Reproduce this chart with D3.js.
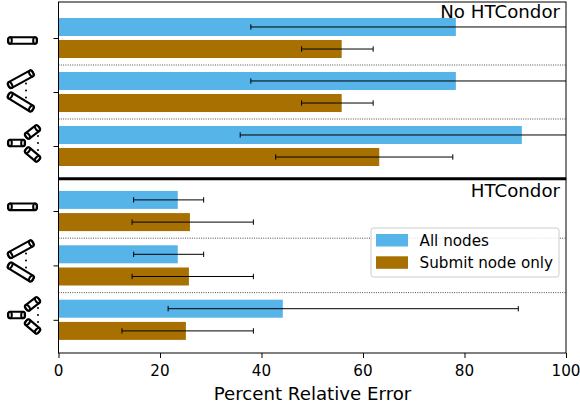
<!DOCTYPE html>
<html>
<head>
<meta charset="utf-8">
<script src="https://cdn.jsdelivr.net/npm/d3@7"></script>
<style>
  body { margin: 0; background: #fff; }
  text { font-family: "DejaVu Sans", sans-serif; fill: #000; }
</style>
</head>
<body>
<div id="adiv"></div>
<script>
var panelNames = ["No HTCondor", "HTCondor"];
var seriesNames = ["All nodes", "Submit node only"];
var xTicks = [0, 20, 40, 60, 80, 100];
var categories = ["single", "pair", "triple"];

// top panel
var noCondorAll = [78.3, 78.3, 91.3];
var noCondorAllLow = [37.9, 37.9, 35.8];
var noCondorAllHigh = [118.9, 118.9, 147];
var noCondorSubmit = [55.8, 55.8, 63.2];
var noCondorSubmitLow = [47.9, 47.9, 42.8];
var noCondorSubmitHigh = [62, 62, 77.7];

// bottom panel
var condorAll = [23.5, 23.5, 44.2];
var condorAllLow = [14.8, 14.8, 21.6];
var condorAllHigh = [28.6, 28.6, 90.6];
var condorSubmit = [25.9, 25.7, 25.1];
var condorSubmitLow = [14.5, 14.5, 12.5];
var condorSubmitHigh = [38.4, 38.4, 38.4];

var blue = "#56b4e9", brown = "#a87000";
var left = 58.5, right = 566;

var sVg = d3.select("#adiv")
  .append("svg")
    .attr("width", 580)
    .attr("height", 410)
    .style("display", "block");

var x = d3.scaleLinear().domain([0, 100]).range([left, right]);

sVg.append("clipPath").attr("id", "plotclip")
  .append("rect").attr("x", left).attr("y", 0).attr("width", right - left).attr("height", 410);

function drawPanel(top, bottom, firstY, lastY, all, allLow, allHigh, submit, submitLow, submitHigh) {
  var y = d3.scaleLinear().domain([0, 2]).range([firstY, lastY]);
  var g = sVg.append("g");

  // dotted separators between groups
  g.selectAll(".sep").data([0.5, 1.5]).enter().append("line")
    .attr("x1", left).attr("x2", right)
    .attr("y1", d => y(d)).attr("y2", d => y(d))
    .attr("stroke", "#222").attr("stroke-width", 0.8).attr("stroke-dasharray", "1,1.3");

  var series = [
    { color: blue, off: -0.204, v: all, lo: allLow, hi: allHigh },
    { color: brown, off: 0.204, v: submit, lo: submitLow, hi: submitHigh }
  ];

  series.forEach(function (s) {
    g.selectAll(".bar").data(s.v).enter().append("rect")
      .attr("x", x(0))
      .attr("y", (d, i) => y(i + s.off) - 9)
      .attr("width", d => x(d) - x(0))
      .attr("height", 18)
      .attr("fill", s.color);

    var err = g.append("g").attr("clip-path", "url(#plotclip)");
    s.v.forEach(function (d, i) {
      var cy = y(i + s.off);
      err.append("line").attr("x1", x(s.lo[i])).attr("x2", x(s.hi[i]))
        .attr("y1", cy).attr("y2", cy).attr("stroke", "#000").attr("stroke-width", 1);
      [s.lo[i], s.hi[i]].forEach(function (e) {
        err.append("line").attr("x1", x(e)).attr("x2", x(e))
          .attr("y1", cy - 2.7).attr("y2", cy + 2.7).attr("stroke", "#000").attr("stroke-width", 1);
      });
    });
  });

  // y ticks only, no labels
  var yAxis = g.append("g")
    .attr("transform", "translate(" + left + ",0)")
    .call(d3.axisLeft(y).tickValues([0, 1, 2]).tickFormat("").tickSize(5).tickSizeOuter(0));
  yAxis.select(".domain").remove();
  yAxis.selectAll("line").attr("stroke", "#000").attr("stroke-width", 1);

  // frame
  g.append("rect")
    .attr("x", left).attr("y", top)
    .attr("width", right - left).attr("height", bottom - top)
    .attr("fill", "none").attr("stroke", "#000").attr("stroke-width", 1);
}

drawPanel(2, 179, 38, 146, noCondorAll, noCondorAllLow, noCondorAllHigh, noCondorSubmit, noCondorSubmitLow, noCondorSubmitHigh);
drawPanel(179, 353, 211, 319.8, condorAll, condorAllLow, condorAllHigh, condorSubmit, condorSubmitLow, condorSubmitHigh);

// thick divider between panels
sVg.append("line").attr("x1", left).attr("x2", right).attr("y1", 178.7).attr("y2", 178.7)
  .attr("stroke", "#000").attr("stroke-width", 3);

// panel names
sVg.selectAll(".pname").data(panelNames).enter().append("text")
  .attr("x", 560)
  .attr("y", (d, i) => i == 0 ? 18 : 197)
  .attr("text-anchor", "end")
  .attr("font-size", 18.2)
  .text(d => d);

// x axis
var xAxis = sVg.append("g")
  .attr("transform", "translate(0,353)")
  .call(d3.axisBottom(x).tickValues(xTicks).tickSize(5).tickSizeOuter(0).tickPadding(7).tickFormat(d3.format("d")));
xAxis.select(".domain").remove();
xAxis.selectAll("line").attr("stroke", "#000");
xAxis.selectAll("text").attr("font-size", 15.2).attr("font-family", '"DejaVu Sans"').attr("fill", "#000").attr("dx", -0.5);

sVg.append("text")
  .attr("x", 312.5).attr("y", 400)
  .attr("text-anchor", "middle").attr("font-size", 18.2)
  .text("Percent Relative Error");

// legend
var legend = sVg.append("g");
legend.append("rect")
  .attr("x", 371).attr("y", 228).attr("width", 188).attr("height", 49).attr("rx", 2.5)
  .attr("fill", "#fff").attr("fill-opacity", 0.8).attr("stroke", "#ccc").attr("stroke-width", 1);
seriesNames.forEach(function (name, i) {
  legend.append("rect")
    .attr("x", 376).attr("y", 234 + i * 22.3).attr("width", 32).attr("height", 12.5)
    .attr("fill", i == 0 ? blue : brown);
  legend.append("text")
    .attr("x", 419.5).attr("y", 245.5 + i * 22.3).attr("font-size", 15.2).text(name);
});

// pipe pictograms drawn next to the ticks
function pipe(x1, y1, x2, y2) {
  var len = Math.hypot(x2 - x1, y2 - y1);
  var ang = Math.atan2(y2 - y1, x2 - x1) * 180 / Math.PI;
  var p = sVg.append("g")
    .attr("transform", "translate(" + x1 + "," + y1 + ") rotate(" + ang + ")")
    .attr("fill", "#fff").attr("stroke", "#000").attr("stroke-width", 2.1);
  p.append("rect").attr("x", 0).attr("y", -3.3).attr("width", len).attr("height", 6.6).attr("rx", 2.5);
  p.append("ellipse").attr("cx", 2).attr("cy", 0).attr("rx", 1.8).attr("ry", 3.3);
  p.append("ellipse").attr("cx", len - 2).attr("cy", 0).attr("rx", 1.8).attr("ry", 3.3);
}
function dots(cx, cy) {
  sVg.selectAll(null).data([-7, 0, 7]).enter().append("circle")
    .attr("cx", cx).attr("cy", d => cy + d).attr("r", 1).attr("fill", "#000");
}
function iconSingle(cy) { pipe(8, cy, 37, cy); }
function iconPair(cy) {
  pipe(8.5, cy - 4.5, 33, cy - 18);
  pipe(8.5, cy + 4, 33, cy + 19);
  dots(26, cy);
}
function iconTriple(cy) {
  pipe(8, cy, 25, cy);
  pipe(26, cy - 6, 39, cy - 16);
  pipe(26, cy + 6, 39, cy + 17);
  dots(38, cy);
}
iconSingle(40.5);
iconPair(90.5);
iconTriple(143);
iconSingle(206.8);
iconPair(260.5);
iconTriple(315);
</script>
</body>
</html>
